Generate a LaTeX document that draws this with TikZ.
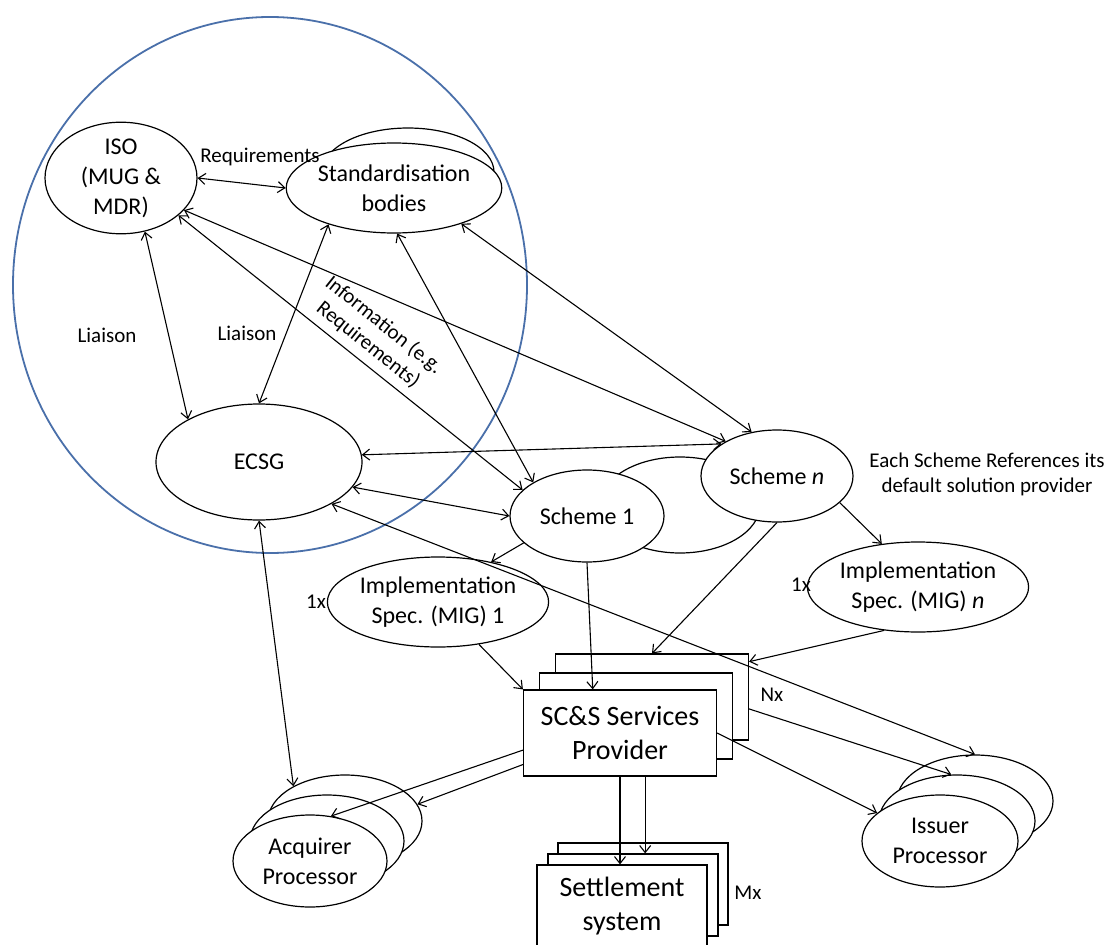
\documentclass[tikz,border=0pt]{standalone}
\usepackage{fontspec}
\setmainfont{Carlito}
\usepackage{tikz}
\usetikzlibrary{shapes.geometric, arrows.meta, positioning}
\definecolor{ringblue}{RGB}{74,112,170}
\tikzset{
    ring/.style={ellipse, draw=ringblue, line width=1.8pt, inner sep=0pt},
    blob/.style={ellipse, draw, fill=white, line width=1.2pt, inner sep=0pt, align=center, font=\fontsize{24}{30}\selectfont},
    card/.style={rectangle, draw, fill=white, line width=1.2pt, inner sep=0pt, align=center, font=\fontsize{28}{34}\selectfont},
    note/.style={align=center, font=\fontsize{21}{25}\selectfont},
    link/.style={line width=1.1pt, <->},
    flow/.style={line width=1.1pt, ->}
}

\begin{document}
\begin{tikzpicture}[x=1pt, y=-1pt, >={Straight Barb[length=7pt, width=11pt]}]
        \fill[white] (0,0) rectangle (1112,945);
        \useasboundingbox (0,0) rectangle (1112,945);

        % Group boundary
        \node (grp) [ring, minimum width=514pt, minimum height=536pt] at (270,285) {};

        % Standards side
        \node (iso) [blob, minimum width=152pt, minimum height=90pt] at (121,178) {ISO\\(MUG \&\\MDR)};
        \node (stdB) [blob, minimum width=172pt, minimum height=88pt] at (408,172) {};
        \node (std) [blob, minimum width=174pt, minimum height=90pt] at (394,188) {Standardisation\\bodies};
        \node (ecsg) [blob, minimum width=206pt, minimum height=116pt] at (259,462) {ECSG};

        % Schemes
        \node (schM) [blob, minimum width=160pt, minimum height=96pt] at (680,505) {};
        \node (sch1) [blob, minimum width=154pt, minimum height=92pt] at (587,516) {Scheme 1};
        \node (schN) [blob, minimum width=152pt, minimum height=92pt] at (777,476) {Scheme \textit{n}};
        \node (imp1) [blob, minimum width=202pt, minimum height=90pt] at (438,602) {Implementation\\Spec. (MIG) 1};
        \node (impN) [blob, minimum width=202pt, minimum height=90pt] at (918,587) {Implementation\\Spec. (MIG) \textit{n}};

        % Provider and settlement
        \node (scB) [card, minimum width=193pt, minimum height=86pt] at (652,697) {};
        \node (scM) [card, minimum width=193pt, minimum height=86pt] at (636,716) {};
        \node (sc) [card, minimum width=193pt, minimum height=86pt] at (620,733) {SC\&S Services\\Provider};
        \node (setB) [card, minimum width=170pt, minimum height=82pt] at (643,884) {};
        \node (setM) [card, minimum width=170pt, minimum height=82pt] at (633,895) {};
        \node (set) [card, minimum width=170pt, minimum height=82pt] at (622,906) {Settlement\\system};

        % Processors
        \node (acqB) [blob, minimum width=154pt, minimum height=92pt] at (345,821) {};
        \node (acqM) [blob, minimum width=154pt, minimum height=92pt] at (327,841) {};
        \node (acq) [blob, minimum width=154pt, minimum height=92pt] at (310,861) {Acquirer\\Processor};
        \node (issB) [blob, minimum width=156pt, minimum height=92pt] at (975,801) {};
        \node (issM) [blob, minimum width=156pt, minimum height=92pt] at (957,821) {};
        \node (iss) [blob, minimum width=156pt, minimum height=92pt] at (940,841) {Issuer\\Processor};

        % Labels
        \node (lia1) [note] at (107,335) {Liaison};
        \node (lia2) [note] at (247,333) {Liaison};
        \node (req) [note] at (260,157) {Requirements};
        \node (one1) [note] at (316,602) {1x};
        \node (oneN) [note] at (801,585) {1x};
        \node (nx) [note] at (772,695) {Nx};
        \node (mx) [note] at (748,893) {Mx};
        \node (hint) [note] at (987,474) {Each Scheme References its\\default solution provider};

        % Two-way links
        \draw[link] (iso.east) -- (std.west);
        \draw[link] (iso.-66) -- (ecsg.149);
        \draw[link] (std.209) -- (ecsg.north);
        \draw[link] (iso.-33) -- node[note, sloped, above=4pt, pos=0.52] {Information (e.g.\\Requirements)} (sch1.158);
        \draw[link] (iso.-27) -- (schN.146);
        \draw[link] (std.-86) -- (sch1.148);
        \draw[link] (std.-28) -- (schN.120);
        \draw[link] (ecsg.4) -- (schN.150);
        \draw[link] (ecsg.-15) -- (sch1.west);
        \draw[link] (ecsg.-30) -- (issB.north);
        \draw[link] (ecsg.south) -- (acqB.146);

        % One-way flows
        \draw[flow] (sch1.south) -- (sc.122);
        \draw[flow] (sch1.203) -- (imp1.37);
        \draw[flow] (schN.-23) -- (impN.130);
        \draw[flow] (imp1.-46) -- (sc.north west);
        \draw[flow] (schN.south) -- (scB.north);
        \draw[flow] (impN.232) -- (scB.20);
        \draw[flow] (scB.-7) -- (issM.97);
        \draw[flow] (sc.east) -- (iss.156);
        \draw[flow] (sc.190) -- (acq.65);
        \draw[flow] (sc.198) -- (acqB.13);
        \draw[flow] (sc.south) -- (sc.south |- set.north);
        \draw[flow] (sc.-60) -- (sc.-60 |- setM.north);
    \end{tikzpicture}
\end{document}
